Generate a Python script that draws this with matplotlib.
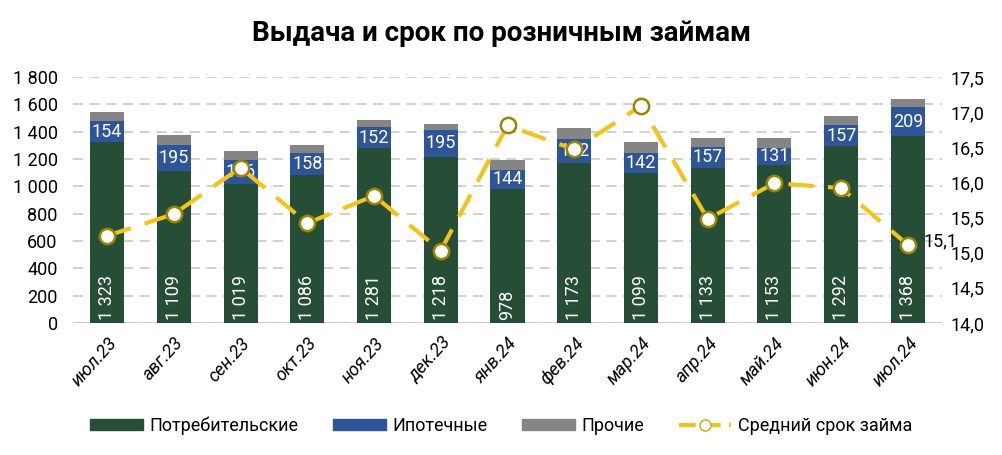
import numpy as np
import matplotlib
matplotlib.use("Agg")
import matplotlib.pyplot as plt
from matplotlib.ticker import FuncFormatter
from matplotlib.lines import Line2D
from matplotlib.patches import Patch

plt.rcParams['font.family'] = ['Roboto', 'DejaVu Sans']

# Данные
months = ['июл.23', 'авг.23', 'сен.23', 'окт.23', 'ноя.23', 'дек.23', 'янв.24',
          'фев.24', 'мар.24', 'апр.24', 'май.24', 'июн.24', 'июл.24']
consumer = [1323, 1109, 1019, 1086, 1281, 1218, 978, 1173, 1099, 1133, 1153, 1292, 1368]
mortgage = [154, 195, 176, 158, 152, 195, 144, 172, 142, 157, 131, 157, 209]
other = [66, 71, 65, 58, 52, 43, 73, 82, 85, 61, 67, 65, 62]
avg_term = [15.24, 15.55, 16.21, 15.42, 15.81, 15.03, 16.81, 16.47, 17.09, 15.48, 15.99, 15.92, 15.11]

c_green = '#264d36'
c_blue = '#2e5597'
c_gray = '#858585'
c_yellow = '#f2c31a'


def fmt_thousands(v, pos=None):
    return f"{int(round(v)):,}".replace(',', ' ')


fig = plt.figure(figsize=(10.03, 4.55), dpi=100)
ax = fig.add_axes([73 / 1003, 1 - 323 / 455, (942 - 73) / 1003, (323 - 77) / 455])
x = np.arange(len(months))
w = 0.51

cons = np.array(consumer)
mort = np.array(mortgage)
oth = np.array(other)

ax.bar(x, cons, w, color=c_green, zorder=2)
ax.bar(x, mort, w, bottom=cons, color=c_blue, zorder=2)
ax.bar(x, oth, w, bottom=cons + mort, color=c_gray, zorder=2)

for i in range(len(x)):
    ax.text(x[i], 20, fmt_thousands(cons[i]), rotation=90, ha='center', va='bottom',
            color='white', fontsize=13, zorder=3)
    ax.text(x[i], cons[i] + mort[i] / 2, str(mort[i]), ha='center', va='center',
            color='white', fontsize=13, zorder=3)

ax.set_xlim(-0.51, 12.51)
ax.set_ylim(0, 1800)
ax.set_yticks(np.arange(0, 1801, 200))
ax.yaxis.set_major_formatter(FuncFormatter(fmt_thousands))
ax.grid(axis='y', color='#c8c8c8', linestyle=(0, (6, 4)), linewidth=1.2, zorder=0)
ax.set_xticks(x)
ax.set_xticklabels(months, rotation=48, ha='right', rotation_mode='anchor',
                   fontstyle='italic', fontsize=13)
ax.tick_params(axis='both', length=0, labelsize=13)
ax.tick_params(axis='y', pad=11)
ax.tick_params(axis='x', pad=8)
for s in ax.spines.values():
    s.set_visible(False)
ax.axhline(0, color='#c8c8c8', linewidth=1.2, zorder=1)

ax2 = ax.twinx()
ax2.set_ylim(14.0, 17.5)
ax2.set_yticks(np.arange(14.0, 17.51, 0.5))
ax2.yaxis.set_major_formatter(FuncFormatter(lambda v, p: f"{v:.1f}".replace('.', ',')))
ax2.tick_params(axis='y', length=0, labelsize=13, pad=6)
for s in ax2.spines.values():
    s.set_visible(False)
ax2.plot(x, avg_term, color=c_yellow, linewidth=3, dashes=(6, 3.5),
         marker='o', markersize=11, markerfacecolor='white',
         markeredgecolor='#9c8400', markeredgewidth=1.8, zorder=5)
ax2.text(x[-1] + 0.24, avg_term[-1] + 0.05, f"{avg_term[-1]:.1f}".replace('.', ','),
         ha='left', va='center', fontsize=13)

fig.suptitle('Выдача и срок по розничным займам', fontsize=20, fontweight='bold', y=0.955)

handles = [
    Patch(color=c_green, label='Потребительские'),
    Patch(color=c_blue, label='Ипотечные'),
    Patch(color=c_gray, label='Прочие'),
    Line2D([0], [0], color=c_yellow, linewidth=3, dashes=(4, 2),
           marker='o', markersize=8, markerfacecolor='white',
           markeredgecolor='#c9a800', label='Средний срок займа'),
]
fig.legend(handles=handles, loc='center', bbox_to_anchor=(0.5, 0.065), ncol=4,
           frameon=False, fontsize=13, handlelength=2.9, handleheight=0.6,
           columnspacing=1.9, handletextpad=0.4)

fig.savefig('out.png', dpi=100)
